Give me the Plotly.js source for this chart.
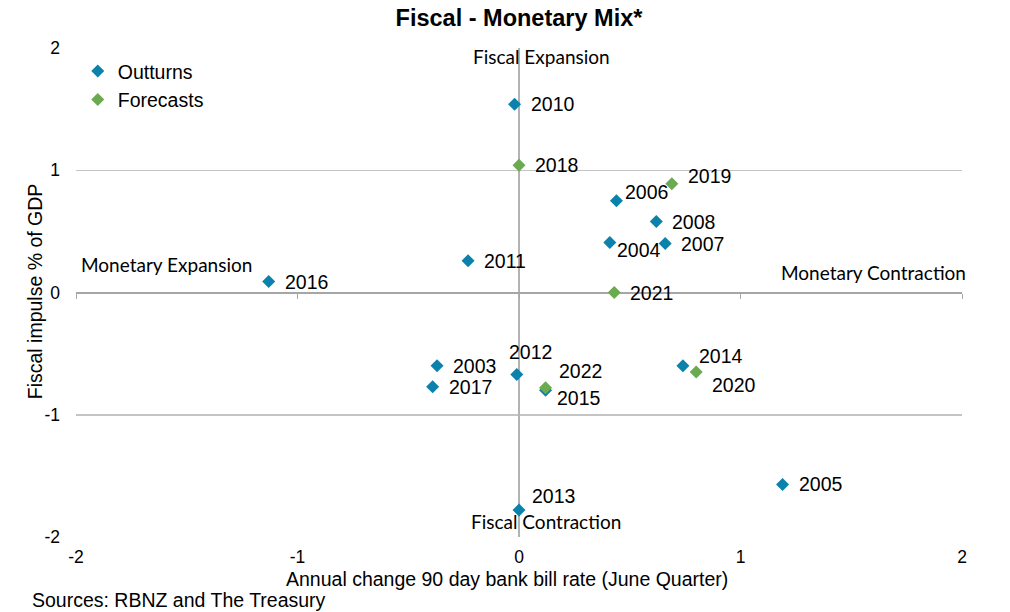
<!DOCTYPE html>
<html>
<head>
<meta charset="utf-8">
<script src="https://cdn.plot.ly/plotly-3.0.1.min.js"></script>
<style>html,body{margin:0;padding:0;background:#fff;}#chart{width:1010px;height:612px;}</style>
</head>
<body>
<div id="chart"></div>
<script>
// Outturns
var outturnYears = ['2003','2004','2005','2006','2007','2008','2010','2011','2012','2013','2014','2015','2016','2017'];
var outturnX = [-0.37, 0.41, 1.19, 0.44, 0.66, 0.62, -0.02, -0.23, -0.01, 0.00, 0.74, 0.12, -1.13, -0.39];
var outturnY = [-0.60, 0.41, -1.57, 0.75, 0.40, 0.58, 1.54, 0.26, -0.67, -1.78, -0.60, -0.80, 0.09, -0.77];
// Forecasts
var forecastYears = ['2018','2019','2020','2021','2022'];
var forecastX = [0.00, 0.69, 0.80, 0.43, 0.12];
var forecastY = [1.04, 0.89, -0.65, 0.00, -0.78];
// Axis ticks
var xTicks = [-2, -1, 0, 1, 2];
var yTicks = [-2, -1, 0, 1, 2];
// Quadrant labels
var quadrantLabels = ['Fiscal Expansion', 'Monetary Expansion', 'Monetary Contraction', 'Fiscal Contraction'];
var quadrantX = [0.10, -1.59, 1.60, 0.12];
var quadrantY = [1.93, 0.23, 0.16, -1.87];
// Texts
var chartTitle = 'Fiscal - Monetary Mix*';
var xTitle = 'Annual change 90 day bank bill rate (June Quarter)';
var yTitle = 'Fiscal impulse % of GDP';
var sourceNote = 'Sources: RBNZ and The Treasury';

// label placement style (pixel offsets of the year label from its marker)
var labelShift = {
  '2004':[5,-8], '2006':[7,9], '2012':[-10,22], '2013':[11,14], '2014':[14,10],
  '2015':[9,-8], '2019':[14,8], '2020':[14,-13], '2022':[11,17]
};
var defaultShift = [14, 0];

var BLUE = '#0A82AC', GREEN = '#6AAA50';
var FONT = 'Liberation Sans, Arial, sans-serif';
var FS = 19.5;
var TICKFS = 17.5;

var traces = [
  {type:'scatter', mode:'markers', name:'Outturns', x:outturnX, y:outturnY, text:outturnYears,
   marker:{symbol:'diamond', size:10, color:BLUE}, cliponaxis:false, hoverinfo:'x+y+text'},
  {type:'scatter', mode:'markers', name:'Forecasts', x:forecastX, y:forecastY, text:forecastYears,
   marker:{symbol:'diamond', size:10, color:GREEN}, cliponaxis:false, hoverinfo:'x+y+text'},
  {type:'scatter', x:[], y:[], xaxis:'x2', showlegend:false, hoverinfo:'skip'}
];

var annotations = [];
function addLabels(years, xs, ys){
  years.forEach(function(yr, i){
    var s = labelShift[yr] || defaultShift;
    annotations.push({text:yr, x:xs[i], y:ys[i], xref:'x', yref:'y', showarrow:false,
      xanchor:'left', yanchor:'middle', xshift:s[0], yshift:s[1],
      font:{family:FONT, size:FS, color:'#000'}});
  });
}
addLabels(outturnYears, outturnX, outturnY);
addLabels(forecastYears, forecastX, forecastY);

quadrantLabels.forEach(function(t,i){
  annotations.push({text:t, x:quadrantX[i], y:quadrantY[i], xref:'x', yref:'y', showarrow:false,
    font:{family:'Lato, Open Sans, sans-serif', size:19, color:'#000'}});
});
annotations.push({text:xTitle, xref:'paper', yref:'paper', x:0.486, y:-0.086,
  xanchor:'center', yanchor:'middle', showarrow:false, font:{family:FONT, size:FS, color:'#000'}});
annotations.push({text:yTitle, xref:'paper', yref:'paper', x:-0.046, y:0.503, textangle:-90,
  xanchor:'center', yanchor:'middle', showarrow:false, font:{family:FONT, size:FS, color:'#000'}});
annotations.push({text:sourceNote, xref:'paper', yref:'paper',
  x:-0.052, y:-0.129, xanchor:'left', yanchor:'middle', showarrow:false,
  font:{family:FONT, size:FS, color:'#000'}});

var layout = {
  width:1010, height:612,
  margin:{l:76, r:48, t:48, b:75},
  paper_bgcolor:'#fff', plot_bgcolor:'#fff',
  font:{family:FONT, size:FS, color:'#000'},
  title:{text:'<b>' + chartTitle + '</b>', x:0.5, xref:'paper', y:1-18/612, yref:'container', yanchor:'middle',
    font:{family:FONT, size:23.5, color:'#000'}},
  showlegend:true,
  legend:{x:0.002, y:0.992, xanchor:'left', yanchor:'top', bgcolor:'rgba(0,0,0,0)',
    font:{family:FONT, size:FS, color:'#000'}, tracegroupgap:0, itemwidth:30},
  xaxis:{range:[-2,2], tickvals:xTicks, ticktext:xTicks.map(String), showgrid:false,
    zeroline:true, zerolinecolor:'#b3b3b3', zerolinewidth:2, showline:false,
    ticks:'outside', ticklen:4, tickcolor:'rgba(0,0,0,0)', automargin:false,
    tickfont:{family:FONT, size:TICKFS, color:'#000'}},
  xaxis2:{range:[-2,2], overlaying:'x', anchor:'free', position:0.5, side:'bottom',
    tickvals:xTicks, showticklabels:false, ticks:'outside', ticklen:5, tickcolor:'#a6a6a6',
    showgrid:false, zeroline:false, showline:false},
  yaxis:{range:[-2,2], tickvals:yTicks, ticktext:yTicks.map(String), showgrid:true,
    gridcolor:'#c4c4c4', gridwidth:1.5, zeroline:true, zerolinecolor:'#a6a6a6', zerolinewidth:2,
    showline:false, ticks:'', automargin:false, ticklabelstandoff:15,
    tickfont:{family:FONT, size:TICKFS, color:'#000'}},
  annotations:annotations
};

Plotly.newPlot('chart', traces, layout, {staticPlot:true});
</script>
</body>
</html>
